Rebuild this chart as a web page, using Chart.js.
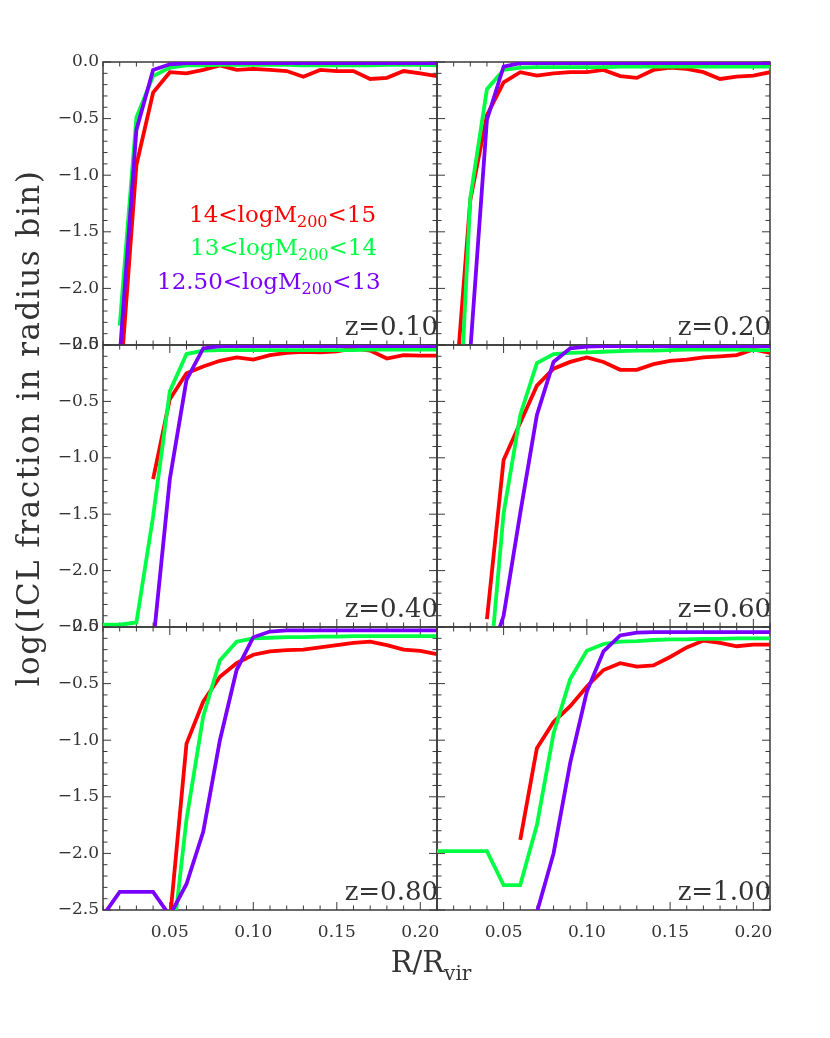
<!DOCTYPE html>
<html>
<head>
<meta charset="utf-8">
<title>ICL fraction vs radius</title>
<script src="https://cdn.jsdelivr.net/npm/chart.js@4.4.1/dist/chart.umd.min.js"></script>
<style>
  body { margin: 0; background: #fff; }
  #wrap { position: relative; width: 830px; height: 1038px; overflow: hidden; }
  #wrap canvas { position: absolute; left: 0; top: 0; }
</style>
</head>
<body>
<div id="wrap"></div>
<script>
// radial bins (R/Rvir)
const radius = [0.01, 0.02, 0.03, 0.04, 0.05, 0.06, 0.07, 0.08, 0.09, 0.10, 0.11,
                0.12, 0.13, 0.14, 0.15, 0.16, 0.17, 0.18, 0.19, 0.20, 0.21];

const xTickLabels = ['0.05', '0.10', '0.15', '0.20'];
const yTickValues = [0, -0.5, -1.0, -1.5, -2.0, -2.5];
const yTickLabels = ['0.0', '\u22120.5', '\u22121.0', '\u22121.5', '\u22122.0', '\u22122.5'];

const redshiftLabels = ['z=0.10', 'z=0.20', 'z=0.40', 'z=0.60', 'z=0.80', 'z=1.00'];

// mass bins: [before sub, sub, after sub]
const massBins = [
  ['14<logM', '200', '<15'],
  ['13<logM', '200', '<14'],
  ['12.50<logM', '200', '<13']
];

// log(ICL fraction) per panel, one array per mass bin
const red010    = [null, -2.9, -0.91, -0.27, -0.09, -0.10, -0.07, -0.03, -0.07, -0.06, -0.07, -0.08, -0.13, -0.07, -0.08, -0.08, -0.15, -0.14, -0.08, -0.10, -0.125];
const green010  = [null, -2.33, -0.49, -0.125, -0.05, -0.03, -0.03, -0.025, -0.025, -0.025, -0.025, -0.025, -0.03, -0.03, -0.03, -0.03, -0.03, -0.025, -0.025, -0.025, -0.03];
const purple010 = [null, -2.6, -0.6, -0.07, -0.02, -0.01, -0.01, -0.01, -0.01, -0.01, -0.01, -0.01, -0.01, -0.01, -0.01, -0.01, -0.01, -0.01, -0.01, -0.01, -0.01];

const red020    = [null, -3.1, -1.22, -0.47, -0.18, -0.09, -0.12, -0.10, -0.09, -0.09, -0.07, -0.125, -0.14, -0.07, -0.05, -0.06, -0.09, -0.15, -0.13, -0.12, -0.09];
const green020  = [null, -4.2, -1.2, -0.24, -0.07, -0.05, -0.045, -0.045, -0.045, -0.045, -0.045, -0.04, -0.04, -0.04, -0.04, -0.04, -0.04, -0.04, -0.04, -0.04, -0.04];
const purple020 = [null, null, -2.55, -0.51, -0.04, -0.01, -0.01, -0.01, -0.01, -0.01, -0.01, -0.01, -0.01, -0.01, -0.01, -0.01, -0.01, -0.01, -0.01, -0.01, -0.01];

const red040    = [null, null, null, -1.19, -0.48, -0.25, -0.19, -0.14, -0.11, -0.13, -0.09, -0.07, -0.06, -0.065, -0.056, -0.03, -0.05, -0.12, -0.09, -0.095, -0.095];
const green040  = [-2.48, -2.48, -2.46, -1.52, -0.41, -0.08, -0.05, -0.045, -0.045, -0.045, -0.045, -0.045, -0.045, -0.045, -0.045, -0.045, -0.04, -0.04, -0.04, -0.04, -0.04];
const purple040 = [null, null, null, -2.65, -1.19, -0.31, -0.03, -0.01, -0.01, -0.01, -0.01, -0.01, -0.01, -0.01, -0.01, -0.01, -0.01, -0.01, -0.01, -0.01, -0.01];

const red060    = [null, null, null, -2.43, -1.02, -0.69, -0.36, -0.21, -0.15, -0.11, -0.15, -0.22, -0.22, -0.17, -0.14, -0.13, -0.11, -0.10, -0.09, -0.04, -0.07];
const green060  = [null, null, null, -3.16, -1.49, -0.62, -0.16, -0.08, -0.07, -0.065, -0.06, -0.055, -0.05, -0.05, -0.045, -0.04, -0.04, -0.04, -0.04, -0.045, -0.045];
const purple060 = [null, null, null, -2.85, -2.40, -1.49, -0.62, -0.15, -0.03, -0.015, -0.01, -0.01, -0.01, -0.01, -0.01, -0.01, -0.01, -0.01, -0.01, -0.01, -0.01];

const red080    = [null, null, null, null, -2.6, -1.03, -0.66, -0.44, -0.32, -0.245, -0.215, -0.205, -0.2, -0.18, -0.16, -0.14, -0.13, -0.16, -0.2, -0.21, -0.24];
const green080  = [null, null, null, null, -3.0, -1.70, -0.79, -0.295, -0.13, -0.10, -0.095, -0.09, -0.09, -0.085, -0.085, -0.08, -0.08, -0.08, -0.08, -0.08, -0.08];
const purple080 = [-2.55, -2.34, -2.34, -2.34, -2.55, -2.27, -1.81, -1.0, -0.38, -0.09, -0.04, -0.03, -0.03, -0.03, -0.03, -0.03, -0.03, -0.03, -0.03, -0.03, -0.03];

const red100    = [null, null, null, null, null, -1.88, -1.07, -0.84, -0.70, -0.525, -0.38, -0.32, -0.35, -0.34, -0.265, -0.18, -0.12, -0.14, -0.17, -0.155, -0.155];
const green100  = [-1.98, -1.98, -1.98, -1.98, -2.28, -2.28, -1.75, -0.94, -0.46, -0.21, -0.15, -0.13, -0.125, -0.115, -0.11, -0.11, -0.105, -0.105, -0.10, -0.10, -0.10];
const purple100 = [null, null, null, null, null, null, -2.52, -2.0, -1.2, -0.57, -0.215, -0.075, -0.05, -0.045, -0.045, -0.045, -0.045, -0.045, -0.045, -0.045, -0.045];

const panelSeries = [
  [red010, green010, purple010],
  [red020, green020, purple020],
  [red040, green040, purple040],
  [red060, green060, purple060],
  [red080, green080, purple080],
  [red100, green100, purple100]
];

// ---- look ----
const PAGE_W = 830, PAGE_H = 1038;
const colX = [103, 437, 770];
const rowY = [62, 345, 627, 910];
const Y_AXIS_W = 70, X_AXIS_H = 50;   // room reserved for tick labels
const lineColors = ['#ff0000', '#00ff44', '#7a00ff'];
const TEXT = '#333333';
const AXIS = '#3a3a3a';
const FONT = '"DejaVu Serif", "Liberation Serif", serif';

Chart.defaults.font.family = FONT;

// inward ticks on all four sides plus the frame
const framePlugin = {
  id: 'frame',
  beforeDatasetsDraw(chart) {
    const { ctx, chartArea: a, scales: { x, y } } = chart;
    ctx.save();
    ctx.strokeStyle = AXIS;
    ctx.lineWidth = 1;
    ctx.beginPath();
    x.ticks.forEach(t => {
      const px = x.getPixelForValue(t.value);
      const len = Math.round(t.value * 100) % 5 === 0 ? 8 : 4.5;
      ctx.moveTo(px, a.bottom); ctx.lineTo(px, a.bottom - len);
      ctx.moveTo(px, a.top); ctx.lineTo(px, a.top + len);
    });
    y.ticks.forEach(t => {
      const py = y.getPixelForValue(t.value);
      const len = Math.round(t.value * 10) % 5 === 0 ? 8 : 4.5;
      ctx.moveTo(a.left, py); ctx.lineTo(a.left + len, py);
      ctx.moveTo(a.right, py); ctx.lineTo(a.right - len, py);
    });
    ctx.stroke();
    ctx.lineWidth = 1.5;
    ctx.strokeRect(a.left, a.top, a.right - a.left, a.bottom - a.top);
    ctx.restore();
  }
};

function drawSubText(ctx, x, y, parts, size, subSize, drop) {
  let cx = x;
  parts.forEach((p, k) => {
    const isSub = k === 1;
    ctx.font = (isSub ? subSize : size) + 'px ' + FONT;
    ctx.fillText(p, cx, isSub ? y + drop : y);
    cx += ctx.measureText(p).width;
  });
  return cx - x;
}

function textPlugin(idx) {
  return {
    id: 'panelText' + idx,
    afterDraw(chart) {
      const { ctx, chartArea: a } = chart;
      ctx.save();
      ctx.fillStyle = TEXT;
      ctx.font = '26px ' + FONT;
      ctx.textAlign = 'right';
      ctx.textBaseline = 'alphabetic';
      ctx.fillText(redshiftLabels[idx], a.right + 1, a.bottom - 10);
      ctx.textAlign = 'left';
      if (idx === 0) {
        // mass-bin key
        const lefts = [189, 190, 157];
        const bases = [222, 255, 289];
        massBins.forEach((parts, k) => {
          ctx.fillStyle = lineColors[k];
          drawSubText(ctx, lefts[k], bases[k], parts, 23, 16, 5);
        });
        // figure axis titles
        ctx.fillStyle = TEXT;
        ctx.save();
        ctx.translate(39, 428);
        ctx.rotate(-Math.PI / 2);
        ctx.font = '31px ' + FONT;
        ctx.letterSpacing = '1.5px';
        ctx.textAlign = 'center';
        ctx.fillText('log(ICL fraction in radius bin)', 0, 0);
        ctx.restore();
        ctx.font = '29px ' + FONT;
        const w1 = ctx.measureText('R/R').width;
        ctx.font = '20px ' + FONT;
        const w2 = ctx.measureText('vir').width;
        drawSubText(ctx, 431 - (w1 + w2) / 2, 972, ['R/R', 'vir', ''], 29, 20, 8);
      }
      ctx.restore();
    }
  };
}

const wrap = document.getElementById('wrap');

panelSeries.forEach((series, idx) => {
  const col = idx % 2, row = Math.floor(idx / 2);
  const canvas = document.createElement('canvas');
  canvas.width = PAGE_W; canvas.height = PAGE_H;
  wrap.appendChild(canvas);

  const datasets = series.map((vals, k) => ({
    label: massBins[k].join(''),
    data: radius.map((r, i) => ({ x: r, y: vals[i] })),
    borderColor: lineColors[k],
    borderWidth: 3.8,
    pointRadius: 0,
    tension: 0,
    fill: false,
    spanGaps: false,
    order: 3 - k
  }));

  new Chart(canvas, {
    type: 'line',
    data: { datasets },
    options: {
      responsive: false,
      animation: false,
      devicePixelRatio: 1,
      layout: {
        padding: {
          left: colX[col] - Y_AXIS_W, right: PAGE_W - colX[col + 1],
          top: rowY[row], bottom: PAGE_H - rowY[row + 1] - X_AXIS_H
        }
      },
      plugins: { legend: { display: false }, tooltip: { enabled: false } },
      scales: {
        x: {
          type: 'linear', min: 0.01, max: 0.21,
          grid: { display: false, drawTicks: false },
          border: { display: false },
          afterFit: s => { s.height = X_AXIS_H; },
          ticks: {
            display: row === 2,
            stepSize: 0.01, autoSkip: false, maxRotation: 0, maxTicksLimit: 100,
            padding: 12, color: TEXT, font: { size: 17 },
            callback: v => {
              const lab = v.toFixed(2);
              return xTickLabels.includes(lab) ? lab : '';
            }
          }
        },
        y: {
          type: 'linear', min: -2.5, max: 0,
          grid: { display: false, drawTicks: false },
          border: { display: false },
          afterFit: s => { s.width = Y_AXIS_W; },
          ticks: {
            display: col === 0,
            stepSize: 0.1, autoSkip: false, maxTicksLimit: 100,
            padding: 4, color: TEXT, font: { size: 17 },
            callback: v => {
              const k = yTickValues.findIndex(t => Math.abs(t - v) < 1e-6);
              return k >= 0 ? yTickLabels[k] : '';
            }
          }
        }
      }
    },
    plugins: [framePlugin, textPlugin(idx)]
  });
});
</script>
</body>
</html>
